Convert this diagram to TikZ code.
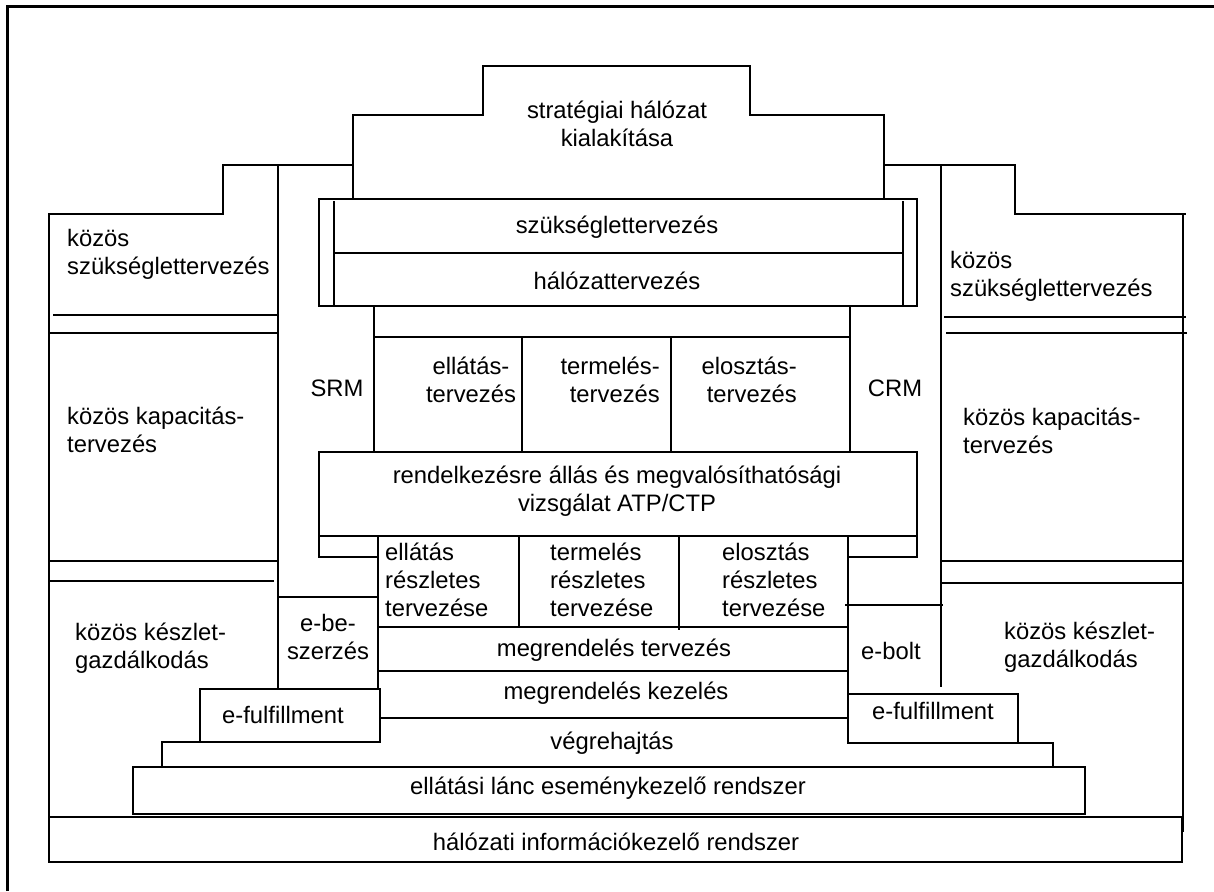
\documentclass[tikz,border=0pt]{standalone}
\usepackage{fontspec}
\setmainfont{Liberation Sans}
\begin{document}
\begin{tikzpicture}[x=1pt,y=-1pt,
  ln/.style={line width=1.7pt},
  frame/.style={line width=3pt},
  lbl/.style={font=\fontsize{23.8}{28}\selectfont, inner sep=0pt, align=center},
  lbll/.style={lbl, align=left, anchor=west},
  lblr/.style={lbl, align=right}]
\useasboundingbox (0,0) rectangle (1214,891);

% page frame (top and left only)
\draw[frame] (7,891) -- (7,7) -- (1214,7);

% stepped outline at the top
\draw[ln] (49,817) -- (49,214) -- (223,214) -- (223,165) -- (353,165);
\draw[ln] (353,199) -- (353,115) -- (483,115) -- (483,66) -- (750,66) -- (750,115) -- (884,115) -- (884,199);
\draw[ln] (883,165) -- (1015,165) -- (1015,214) -- (1186,214);
\draw[ln] (1183,214) -- (1183,832);

% SRM and CRM column lines
\draw[ln] (278,165) -- (278,688);
\draw[ln] (941,165) -- (941,687);

% network planning block
\draw[ln] (319,199) rectangle (917,306);
\draw[ln] (334,201) -- (334,306);
\draw[ln] (903,201) -- (903,306);
\draw[ln] (334,253) -- (903,253);

% supply / production / distribution planning
\draw[ln] (374,306) -- (374,452);
\draw[ln] (850,306) -- (850,452);
\draw[ln] (374,337) -- (850,337);
\draw[ln] (522,337) -- (522,452);
\draw[ln] (671,337) -- (671,452);

% ATP/CTP block
\draw[ln] (319,452) rectangle (917,536);
\draw[ln] (319,536) -- (319,557) -- (378,557);
\draw[ln] (917,536) -- (917,557) -- (847,557);

% detailed planning columns and order rows
\draw[ln] (378,536) -- (378,688);
\draw[ln] (848,536) -- (848,694);
\draw[ln] (519,536) -- (519,627);
\draw[ln] (679,536) -- (679,630);
\draw[ln] (378,627) -- (848,627);
\draw[ln] (378,671) -- (848,671);
\draw[ln] (380,718) -- (848,718);

% e-procurement, e-shop
\draw[ln] (278,597) -- (378,597);
\draw[ln] (845,605) -- (943,605);

% e-fulfillment boxes and execution step
\draw[ln] (200,689) rectangle (380,742);
\draw[ln] (162,768) -- (162,742) -- (200,742);
\draw[ln] (848,694) rectangle (1018,743);
\draw[ln] (1018,743) -- (1053,743) -- (1053,767);

% event management and information management
\draw[ln] (133,767) rectangle (1085,814);
\draw[ln] (49,817) rectangle (1182,862);

% collaborative planning boxes, left
\draw[ln] (53,315) -- (278,315);
\draw[ln] (49,333) -- (278,333);
\draw[ln] (49,561) -- (277,561);
\draw[ln] (48,581) -- (274,581);

% collaborative planning boxes, right
\draw[ln] (944,317) -- (1186,317);
\draw[ln] (946,333) -- (1187,333);
\draw[ln] (941,561) -- (1183,561);
\draw[ln] (941,583) -- (1183,583);

% labels
\node[lbl] (strat) at (617,124) {stratégiai hálózat\\kialakítása};
\node[lbl] (szuk) at (617,227) {szükséglettervezés};
\node[lbl] (halo) at (617,281) {hálózattervezés};
\node[lbll] (kszl) at (67,254) {közös\\szükséglettervezés};
\node[lbll] (kszr) at (950,276) {közös\\szükséglettervezés};
\node[lbl] (srm) at (337,388) {SRM};
\node[lbl] (crm) at (895,388) {CRM};
\node[lbll] (kkl) at (67,430) {közös kapacitás-\\tervezés};
\node[lbll] (kkr) at (963,431) {közös kapacitás-\\tervezés};
\node[lbl] (ellt) at (471,380) {ellátás-\\tervezés};
\node[lblr, anchor=east] (termt) at (660,380) {termelés-\\tervezés};
\node[lblr, anchor=east] (elot) at (797,380) {elosztás-\\tervezés};
\node[lbl] (atp) at (617,491) {rendelkezésre állás és megvalósíthatósági\\vizsgálat ATP/CTP};
\node[lbll] (ellr) at (385,580) {ellátás\\részletes\\tervezése};
\node[lbll] (termr) at (550,580) {termelés\\részletes\\tervezése};
\node[lbll] (elor) at (722,580) {elosztás\\részletes\\tervezése};
\node[lbl] (ebe) at (328,637) {e-be-\\szerzés};
\node[lbl] (mt) at (614,650) {megrendelés tervezés};
\node[lbl] (mk) at (616,693) {megrendelés kezelés};
\node[lbl] (vh) at (612,743) {végrehajtás};
\node[lbl] (elc) at (608,788) {ellátási lánc eseménykezelő rendszer};
\node[lbl] (hir) at (616,842) {hálózati információkezelő rendszer};
\node[lbl] (efl) at (283,715) {e-fulfillment};
\node[lbl] (efr) at (933,711) {e-fulfillment};
\node[lbl] (ebolt) at (891,651) {e-bolt};
\node[lbll] (kgl) at (75,648) {közös készlet-\\gazdálkodás};
\node[lbll] (kgr) at (1004,647) {közös készlet-\\gazdálkodás};
\end{tikzpicture}
\end{document}
